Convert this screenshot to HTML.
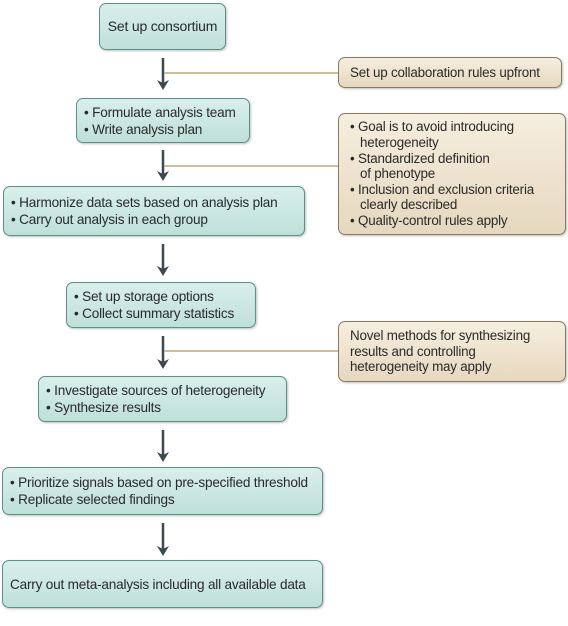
<!DOCTYPE html>
<html><head><meta charset="utf-8"><style>
body{margin:0;width:568px;height:626px;background:#fff;position:relative;overflow:hidden;font-family:"Liberation Sans",sans-serif;color:#2a2a2a}
.b{position:absolute;box-sizing:border-box;border:1.3px solid #5d8f8b;border-radius:7px;background:linear-gradient(#d9efeb,#bfe0da);box-shadow:1px 1px 2px rgba(0,0,0,.25);font-size:13.6px;line-height:17px;letter-spacing:-0.2px;padding:0 7px;display:flex;flex-direction:column;justify-content:center;white-space:nowrap}
.t{position:absolute;box-sizing:border-box;border:1.3px solid #8c7a5f;border-radius:7px;background:linear-gradient(#f6eedf,#e6d8bf);box-shadow:1px 1px 2px rgba(0,0,0,.25);font-size:13.4px;line-height:15.6px;letter-spacing:-0.2px;padding:0 11px;display:flex;flex-direction:column;justify-content:center;white-space:nowrap}
.i{padding-left:10px}
</style></head><body>
<svg width="568" height="626" style="position:absolute;left:0;top:0">
<g stroke="#3a4a4e" stroke-width="2.5">
<line x1="163" y1="58" x2="163" y2="88"/><path d="M157,80 L163,90 L169,80 L163,83z" fill="#3a4a4e" stroke="none"/>
<line x1="163" y1="150" x2="163" y2="178"/><path d="M157,171 L163,181 L169,171 L163,174z" fill="#3a4a4e" stroke="none"/>
<line x1="163" y1="244" x2="163" y2="273"/><path d="M157,266 L163,276 L169,266 L163,269z" fill="#3a4a4e" stroke="none"/>
<line x1="163" y1="336" x2="163" y2="366"/><path d="M157,359 L163,369 L169,359 L163,362z" fill="#3a4a4e" stroke="none"/>
<line x1="163" y1="430" x2="163" y2="459"/><path d="M157,452 L163,462 L169,452 L163,455z" fill="#3a4a4e" stroke="none"/>
<line x1="163" y1="523" x2="163" y2="553"/><path d="M157,546 L163,556 L169,546 L163,549z" fill="#3a4a4e" stroke="none"/>
</g>
<g stroke="#c2a77f" stroke-width="1.5">
<line x1="164" y1="73" x2="338" y2="73"/>
<line x1="164" y1="166" x2="338" y2="166"/>
<line x1="164" y1="351" x2="338" y2="351"/>
</g>
</svg>
<div class="b" style="left:99px;top:3px;width:127px;height:47px;align-items:center;font-size:14px">Set up consortium</div>
<div class="b" style="left:76px;top:98px;width:174px;height:45px"><div>• Formulate analysis team</div><div>• Write analysis plan</div></div>
<div class="b" style="left:3px;top:186px;width:302px;height:50px"><div>• Harmonize data sets based on analysis plan</div><div>• Carry out analysis in each group</div></div>
<div class="b" style="left:66px;top:282px;width:190px;height:46px"><div>• Set up storage options</div><div>• Collect summary statistics</div></div>
<div class="b" style="left:38px;top:376px;width:249px;height:46px"><div>• Investigate sources of heterogeneity</div><div>• Synthesize results</div></div>
<div class="b" style="left:2px;top:467px;width:321px;height:48px"><div>• Prioritize signals based on pre-specified threshold</div><div>• Replicate selected findings</div></div>
<div class="b" style="left:2px;top:560px;width:321px;height:48px"><div>Carry out meta-analysis including all available data</div></div>
<div class="t" style="left:338px;top:57px;width:224px;height:31px">Set up collaboration rules upfront</div>
<div class="t" style="left:338px;top:113px;width:228px;height:122px"><div>• Goal is to avoid introducing</div><div class="i">heterogeneity</div><div>• Standardized definition</div><div class="i">of phenotype</div><div>• Inclusion and exclusion criteria</div><div class="i">clearly described</div><div>• Quality-control rules apply</div></div>
<div class="t" style="left:338px;top:321px;width:228px;height:61px"><div>Novel methods for synthesizing</div><div>results and controlling</div><div>heterogeneity may apply</div></div>
</body></html>
